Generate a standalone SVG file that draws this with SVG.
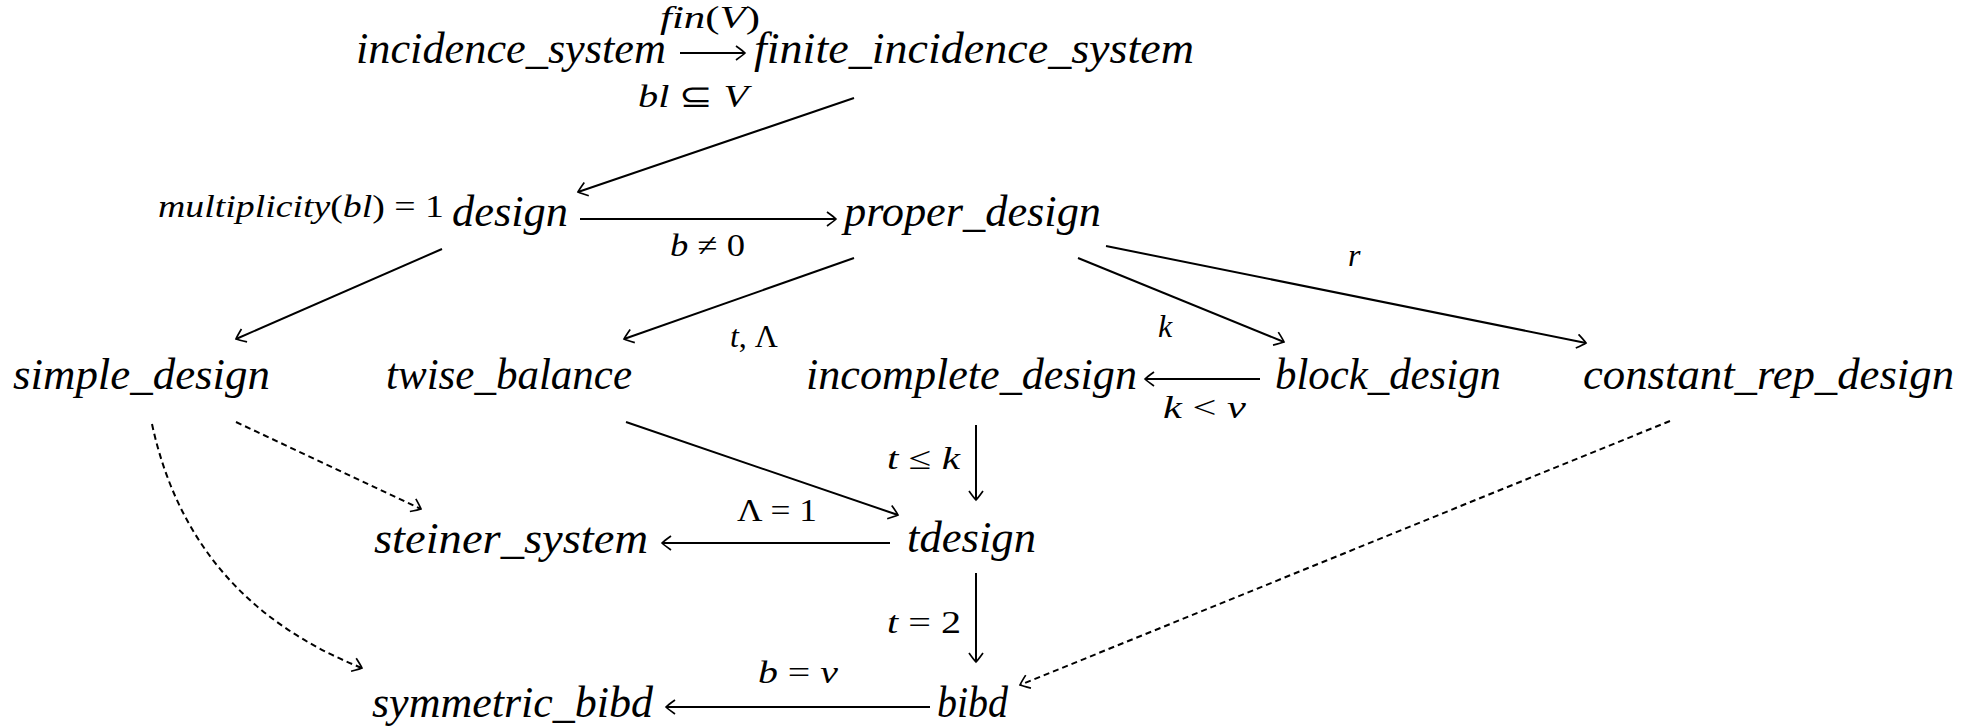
<svg xmlns="http://www.w3.org/2000/svg" width="1970" height="726" viewBox="0 0 1970 726">
<style>
.n{font-family:"Liberation Serif",serif;font-style:italic;font-size:44px;fill:#000}
.l{font-family:"Liberation Serif",serif;font-style:italic;font-size:32px;fill:#000}
.u{font-style:normal}
.e{fill:none;stroke:#000;stroke-width:2}
.d{stroke-dasharray:6 4}
</style>
<defs>
<marker id="ah" viewBox="-12 -8 14 16" refX="0" refY="0" markerWidth="14" markerHeight="16" markerUnits="userSpaceOnUse" orient="auto">
<path d="M-9,-7 Q-2,-2 0,0 Q-2,2 -9,7" fill="none" stroke="#000" stroke-width="1.7"/>
</marker>
</defs>
<rect width="1970" height="726" fill="#fff"/>
<g id="connectors">
<line class="e" x1="680" y1="53" x2="745" y2="53" marker-end="url(#ah)"/>
<line class="e" x1="854" y1="98" x2="578" y2="192" marker-end="url(#ah)"/>
<line class="e" x1="580" y1="219" x2="836" y2="219" marker-end="url(#ah)"/>
<line class="e" x1="442" y1="249" x2="236" y2="339" marker-end="url(#ah)"/>
<line class="e" x1="854" y1="258" x2="624" y2="339" marker-end="url(#ah)"/>
<line class="e" x1="1078" y1="258" x2="1284" y2="342" marker-end="url(#ah)"/>
<line class="e" x1="1106" y1="246" x2="1586" y2="343" marker-end="url(#ah)"/>
<line class="e" x1="1260" y1="379" x2="1145" y2="379" marker-end="url(#ah)"/>
<line class="e" x1="976" y1="425" x2="976" y2="500" marker-end="url(#ah)"/>
<line class="e" x1="626" y1="422" x2="898" y2="515" marker-end="url(#ah)"/>
<line class="e" x1="890" y1="543" x2="662" y2="543" marker-end="url(#ah)"/>
<line class="e d" x1="236" y1="422" x2="421" y2="509" marker-end="url(#ah)"/>
<path class="e d" d="M152,424 Q190,600 362,668" marker-end="url(#ah)"/>
<line class="e" x1="976" y1="573" x2="976" y2="662" marker-end="url(#ah)"/>
<line class="e" x1="930" y1="707" x2="666" y2="707" marker-end="url(#ah)"/>
<line class="e d" x1="1670" y1="421" x2="1020" y2="685" marker-end="url(#ah)"/>
</g>
<g id="labels">
<text class="l" x="660" y="28" textLength="100" lengthAdjust="spacingAndGlyphs">fin<tspan class="u">(</tspan>V<tspan class="u">)</tspan></text>
<text class="l" x="638" y="107" textLength="110" lengthAdjust="spacingAndGlyphs">bl <tspan class="u">⊆</tspan> V</text>
<text class="l" x="158" y="217" textLength="286" lengthAdjust="spacingAndGlyphs">multiplicity<tspan class="u">(</tspan>bl<tspan class="u">) = 1</tspan></text>
<text class="l" x="670" y="256" textLength="75" lengthAdjust="spacingAndGlyphs">b <tspan class="u">≠ 0</tspan></text>
<text class="l" x="730" y="347" textLength="48" lengthAdjust="spacingAndGlyphs">t<tspan class="u">, Λ</tspan></text>
<text class="l" x="1158" y="337">k</text>
<text class="l" x="1348" y="266">r</text>
<text class="l" x="1163" y="418" textLength="83" lengthAdjust="spacingAndGlyphs">k <tspan class="u">&lt;</tspan> v</text>
<text class="l" x="887" y="469" textLength="73" lengthAdjust="spacingAndGlyphs">t <tspan class="u">≤</tspan> k</text>
<text class="l" x="737" y="521" textLength="80" lengthAdjust="spacingAndGlyphs"><tspan class="u">Λ = 1</tspan></text>
<text class="l" x="887" y="633" textLength="74" lengthAdjust="spacingAndGlyphs">t <tspan class="u">= 2</tspan></text>
<text class="l" x="758" y="683" textLength="80" lengthAdjust="spacingAndGlyphs">b <tspan class="u">=</tspan> v</text>
</g>
<g id="incidence_system"><text class="n" x="356" y="63" textLength="310" lengthAdjust="spacingAndGlyphs">incidence_system</text></g>
<g id="finite_incidence_system"><text class="n" x="754" y="63" textLength="440" lengthAdjust="spacingAndGlyphs">finite_incidence_system</text></g>
<g id="design"><text class="n" x="452" y="226" textLength="116" lengthAdjust="spacingAndGlyphs">design</text></g>
<g id="proper_design"><text class="n" x="844" y="226" textLength="257" lengthAdjust="spacingAndGlyphs">proper_design</text></g>
<g id="simple_design"><text class="n" x="13" y="389" textLength="257" lengthAdjust="spacingAndGlyphs">simple_design</text></g>
<g id="twise_balance"><text class="n" x="386" y="389" textLength="246" lengthAdjust="spacingAndGlyphs">twise_balance</text></g>
<g id="incomplete_design"><text class="n" x="806" y="389" textLength="331" lengthAdjust="spacingAndGlyphs">incomplete_design</text></g>
<g id="block_design"><text class="n" x="1275" y="389" textLength="226" lengthAdjust="spacingAndGlyphs">block_design</text></g>
<g id="constant_rep_design"><text class="n" x="1583" y="389" textLength="371" lengthAdjust="spacingAndGlyphs">constant_rep_design</text></g>
<g id="steiner_system"><text class="n" x="374" y="553" textLength="274" lengthAdjust="spacingAndGlyphs">steiner_system</text></g>
<g id="tdesign"><text class="n" x="907" y="552" textLength="129" lengthAdjust="spacingAndGlyphs">tdesign</text></g>
<g id="symmetric_bibd"><text class="n" x="372" y="717" textLength="281" lengthAdjust="spacingAndGlyphs">symmetric_bibd</text></g>
<g id="bibd"><text class="n" x="937" y="717" textLength="71" lengthAdjust="spacingAndGlyphs">bibd</text></g>
</svg>
